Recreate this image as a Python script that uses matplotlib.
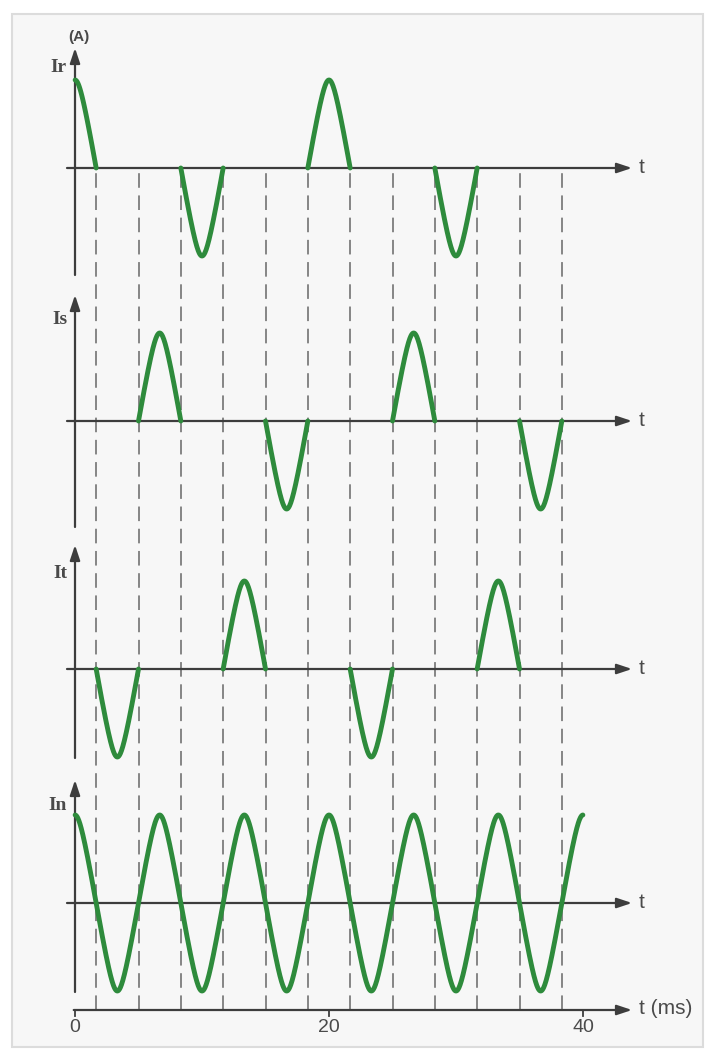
import numpy as np
import matplotlib
matplotlib.use("Agg")
import matplotlib.pyplot as plt
from matplotlib.patches import Rectangle

# Datos: centros de los pulsos (ms) y su signo para cada corriente
w_pulse = 10 / 3  # ancho de cada pulso (ms)

ir_centres = [0, 10, 20, 30]
ir_signs = [1, -1, 1, -1]

is_centres = [20 / 3, 50 / 3, 80 / 3, 110 / 3]
is_signs = [1, -1, 1, -1]

it_centres = [10 / 3, 40 / 3, 70 / 3, 100 / 3]
it_signs = [-1, 1, -1, 1]

in_centres = [0, 10 / 3, 20 / 3, 10, 40 / 3, 50 / 3, 20, 70 / 3, 80 / 3, 30,
              100 / 3, 110 / 3, 40]
in_signs = [1, -1, 1, -1, 1, -1, 1, -1, 1, -1, 1, -1, 1]

dash_times = [5 / 3, 5, 25 / 3, 35 / 3, 15, 55 / 3, 65 / 3, 25, 85 / 3, 95 / 3,
              35, 115 / 3]

labels = ["Ir", "Is", "It", "In"]
tick_vals = [0, 20, 40]

# Estilo
green = "#2e8b3c"
axis_col = "#3d3d3d"
dash_col = "#858585"
text_col = "#4a4a4a"

plt.rcParams["lines.scale_dashes"] = False

fig = plt.figure(figsize=(7.15, 10.57), dpi=100)
fig.patch.set_facecolor("white")

ax = fig.add_axes([0, 0, 1, 1])
ax.set_facecolor("none")
ax.axis("off")
ax.add_patch(Rectangle((12 / 715, 1 - 1047 / 1057), 691 / 715, 1033 / 1057,
                       transform=ax.transAxes, facecolor="#f7f7f7",
                       edgecolor="#dcdcdc", lw=1.5, zorder=0, clip_on=False))

# escala: t=0 -> 75 px, 12.7 px/ms ; y=0 -> 1010 px, 88 px por unidad
PX_MS = 12.7
PX_A = 88.0
ax.set_xlim(-75 / PX_MS, (715 - 75) / PX_MS)
ax.set_ylim(-(1057 - 1010) / PX_A, 1010 / PX_A)


def px(x, y):
    return (x - 75) / PX_MS, (1010 - y) / PX_A


# bases de cada panel (px)
bases_px = [168, 421, 669, 903]
vaxis_px = [(275, 48), (527, 295), (758, 545), (992, 780)]
label_px = [(67, 68), (68, 320), (67, 573), (67, 805)]
bases = [px(0, b)[1] for b in bases_px]

arrow_kw = dict(arrowstyle="-|>,head_length=0.9,head_width=0.3", color=axis_col,
                lw=1.6, shrinkA=0, shrinkB=0)

# lineas discontinuas verticales
for t in dash_times:
    ax.plot([t, t], [0, bases[0]], color=dash_col, lw=1.4, dashes=(10.5, 5.5),
            zorder=1)

x_left = px(67, 0)[0]
x_tip = px(632, 0)[0]
for i, lab in enumerate(labels):
    b = bases[i]
    ax.annotate("", xy=(x_tip, b), xytext=(x_left, b), arrowprops=arrow_kw,
                zorder=2)
    y0 = px(0, vaxis_px[i][0])[1]
    y1 = px(0, vaxis_px[i][1])[1]
    ax.annotate("", xy=(0, y1), xytext=(0, y0), arrowprops=arrow_kw, zorder=2)
    lx, ly = px(*label_px[i])
    ax.text(lx, ly, lab, family="Liberation Serif", weight="bold", fontsize=14,
            color=text_col, ha="right", va="center")
    tx, _ = px(639, 0)
    ax.text(tx, b, "t", family="Liberation Sans", fontsize=15, color=text_col,
            ha="left", va="center")

ax.text(*px(79, 37), "(A)", family="Liberation Sans", weight="bold",
        fontsize=11, color=text_col, ha="center", va="center")


def pulse(c, s, base):
    # pulso de punta redondeada, nulo en los extremos
    tt = np.linspace(c - w_pulse / 2, c + w_pulse / 2, 160)
    tt = tt[(tt >= 0) & (tt <= 40)]
    u = 2 * (tt - c) / w_pulse
    e = 0.35
    g = (np.sqrt(1 + e ** 2) - np.sqrt(u ** 2 + e ** 2)) / (np.sqrt(1 + e ** 2) - e)
    return tt, base + s * g


for centres, signs, b in [(ir_centres, ir_signs, bases[0]),
                          (is_centres, is_signs, bases[1]),
                          (it_centres, it_signs, bases[2])]:
    for c, s in zip(centres, signs):
        tt, yy = pulse(c, s, b)
        ax.plot(tt, yy, color=green, lw=3.5, solid_capstyle="round", zorder=3)

# In: linea continua
t_in, y_in = [], []
for c, s in zip(in_centres, in_signs):
    tt, yy = pulse(c, s, bases[3])
    t_in.append(tt)
    y_in.append(yy)
ax.plot(np.concatenate(t_in), np.concatenate(y_in), color=green, lw=3.5,
        solid_capstyle="round", zorder=3)

# eje de tiempo inferior
ax.annotate("", xy=(x_tip, 0), xytext=(-0.1, 0), arrowprops=arrow_kw, zorder=2)
for v in tick_vals:
    ax.plot([v, v], [0, -6 / PX_A], color=axis_col, lw=1.3, zorder=2)
    ax.text(v, px(0, 1027)[1], str(v), family="Liberation Sans", fontsize=14,
            color=text_col, ha="center", va="center")
ax.text(*px(639, 1009), "t (ms)", family="Liberation Sans", fontsize=15,
        color=text_col, ha="left", va="center")

fig.savefig("out.png", dpi=100)
